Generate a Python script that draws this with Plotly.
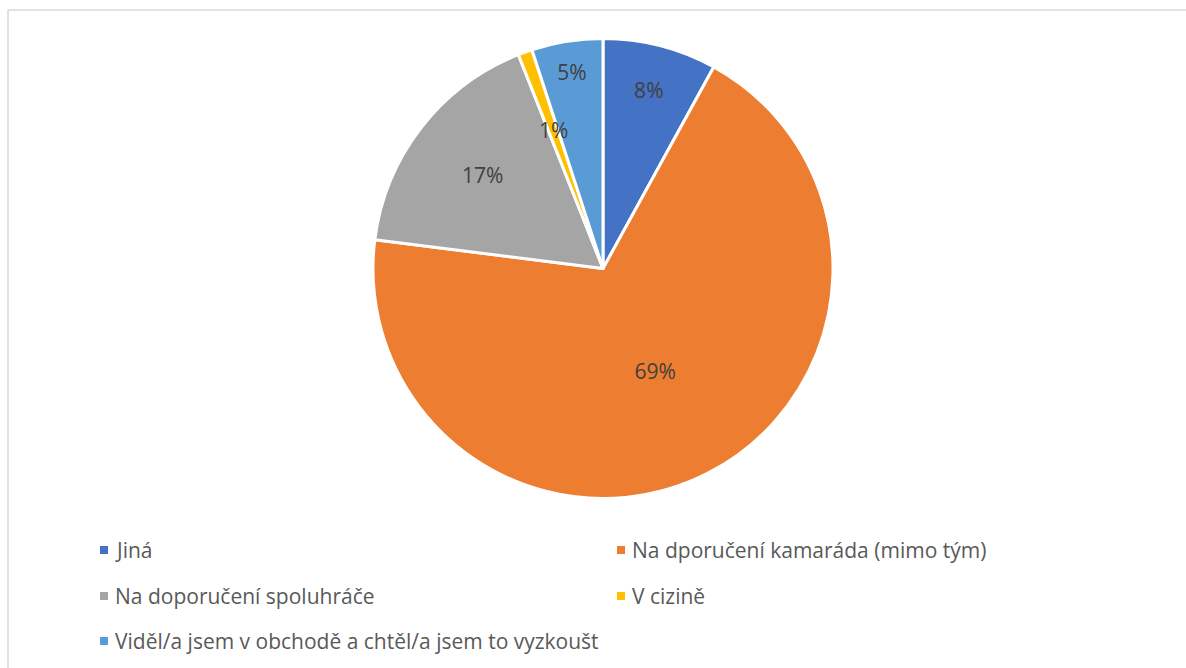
import math
import plotly.graph_objects as go

# Survey answers: how respondents came to the sport
categories = [
    "Jiná",
    "Na dporučení kamaráda (mimo tým)",
    "Na doporučení spoluhráče",
    "V cizině",
    "Viděl/a jsem v obchodě a chtěl/a jsem to vyzkoušt",
]
shares = [8, 69, 17, 1, 5]
colors = ["#4472C4", "#ED7D31", "#A5A5A5", "#FFC000", "#5B9BD5"]

W, H = 1186, 668
FONT = "'Open Sans', 'Noto Sans', sans-serif"
CX, CY, R = 603, 268.5, 230

total = sum(shares)
# Tiny slices get their percentage set beside the slice via an annotation
small = [s / total < 0.02 for s in shares]
texts = ["" if sm else f"{round(100 * s / total)}%" for s, sm in zip(shares, small)]

fig = go.Figure(
    go.Pie(
        labels=categories,
        values=shares,
        sort=False,
        direction="clockwise",
        rotation=0,
        marker=dict(colors=colors, line=dict(color="white", width=3)),
        text=texts,
        textinfo="text",
        textposition="inside",
        insidetextorientation="horizontal",
        textfont=dict(family=FONT, size=21, color="#404040"),
        domain=dict(x=[(CX - R) / W, (CX + R) / W], y=[1 - (CY + R) / H, 1 - (CY - R) / H]),
        showlegend=False,
        hoverinfo="label+percent",
    )
)

annotations = []
cum = 0
for s, sm in zip(shares, small):
    mid = (cum + s / 2) / total * 2 * math.pi
    cum += s
    if sm:
        rr = 0.64 * R
        annotations.append(dict(
            xref="paper", yref="paper",
            x=(CX + rr * math.sin(mid)) / W, y=1 - (CY - rr * math.cos(mid)) / H,
            text=f"{round(100 * s / total)}%", showarrow=False,
            xanchor="center", yanchor="middle",
            font=dict(family=FONT, size=21, color="#404040")))

# Legend drawn as two columns of square swatches with captions
legend_pos = [(100, 550), (617, 550), (100, 596), (617, 596), (100, 641)]
shapes = [
    dict(type="rect", xref="paper", yref="paper",
         x0=8 / W, x1=1.2, y0=-0.2, y1=1 - 10 / H,
         line=dict(color="#D9D9D9", width=1.5), fillcolor="rgba(0,0,0,0)")
]
for (px, py), name, col in zip(legend_pos, categories, colors):
    shapes.append(dict(type="rect", xref="paper", yref="paper",
                       x0=px / W, x1=(px + 8) / W,
                       y0=1 - (py + 4) / H, y1=1 - (py - 4) / H,
                       line=dict(width=0), fillcolor=col))
    annotations.append(dict(xref="paper", yref="paper", x=(px + 13) / W, y=1 - py / H,
                            text=name, showarrow=False, xanchor="left", yanchor="middle",
                            font=dict(family=FONT, size=21, color="#595959")))

fig.update_layout(
    width=W, height=H,
    margin=dict(l=0, r=0, t=0, b=0),
    paper_bgcolor="white",
    plot_bgcolor="white",
    uniformtext=dict(minsize=21, mode="show"),
    shapes=shapes,
    annotations=annotations,
)

fig.write_html("out.html")
